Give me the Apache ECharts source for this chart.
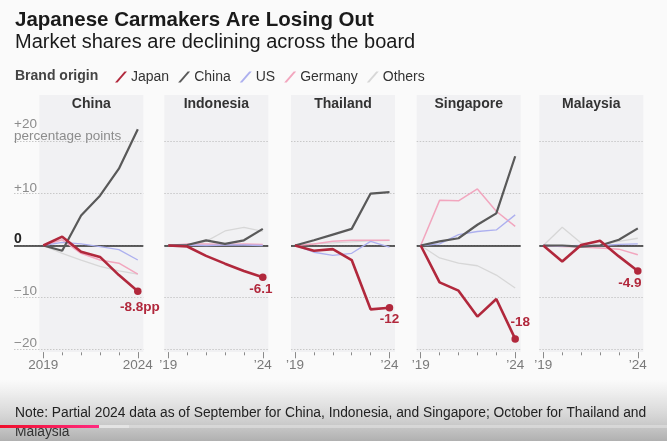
<!DOCTYPE html>
<html><head><meta charset="utf-8">
<script src="https://cdn.jsdelivr.net/npm/echarts@6/dist/echarts.min.js"></script>
<style>html,body{margin:0;padding:0;background:#fafafa}#c{width:667px;height:441px}</style>
</head><body><div id="c"></div>
<script>
// ---------------- data ----------------
const years = [2019, 2020, 2021, 2022, 2023, 2024];
const panels = ['China', 'Indonesia', 'Thailand', 'Singapore', 'Malaysia'];
const brandNames = ['Japan', 'China', 'US', 'Germany', 'Others'];
// change in market share (percentage points) by panel, in panel order
const japanShares = [
  [0, 1.7, -1.2, -2.2, -5.7, -8.8],
  [0, -0.2, -2.0, -3.5, -4.9, -6.1],
  [0, -1.0, -0.7, -2.8, -12.3, -12.0],
  [0, -7.1, -8.7, -13.7, -10.3, -18.0],
  [0, -3.1, 0.1, 0.9, -2.1, -4.9]
];
const chinaShares = [
  [0, -1.0, 5.8, 9.6, 14.8, 22.4],
  [0, 0.1, 1.0, 0.3, 1.0, 3.2],
  [0, 1.0, 2.1, 3.2, 10.0, 10.3],
  [0, 0.8, 1.4, 4.0, 6.2, 17.2],
  [0, 0.0, -0.2, 0.0, 1.1, 3.3]
];
const usShares = [
  [0, 0.6, 0.3, -0.2, -0.8, -2.8],
  [0, 0.1, 0.0, 0.1, 0.1, 0.0],
  [0, -1.3, -1.9, -1.5, 0.8, -0.3],
  [0, 0.3, 2.1, 2.7, 3.0, 5.9],
  [0, -0.1, 0.0, 0.0, 0.2, 0.3]
];
const germanyShares = [
  [0, 1.1, -1.5, -2.8, -3.4, -5.5],
  [0, 0.3, 0.3, 0.2, 0.3, 0.2],
  [0, 0.3, 0.8, 1.0, 1.0, 1.0],
  [0, 8.7, 8.6, 10.9, 6.6, 3.7],
  [0, -0.2, -0.3, -0.5, -0.7, -1.8]
];
const otherShares = [
  [0, -1.5, -2.8, -4.0, -4.9, -5.5],
  [0, 0.0, 0.8, 2.8, 3.5, 2.7],
  [0, 0.3, 0.5, 0.7, 0.9, 1.0],
  [0, -2.4, -3.4, -3.9, -5.7, -8.2],
  [0, 3.5, 0.5, 0.1, 0.8, 1.4]
];
const endLabels = ['-8.8pp', '-6.1', '-12', '-18', '-4.9'];
const startTickLabels = ['2019', '\u201919', '\u201919', '\u201919', '\u201919'];
const endTickLabels = ['2024', '\u201924', '\u201924', '\u201924', '\u201924'];
const yTickValues = [-20, -10, 0, 10, 20];
const yTickLabels = ['\u221220', '\u221210', '0', '+10', '+20'];
const yUnitLabel = 'percentage points';

// ---------------- layout & style ----------------
const FONT = '"Liberation Sans", Arial, sans-serif';
const colors = { Japan: '#b1283c', China: '#595959', US: '#adb0ef', Germany: '#f2a6be', Others: '#d7d7d7' };
const widths = { Japan: 2.6, China: 2.2, US: 1.3, Germany: 1.5, Others: 1.3 };
const drawOrder = ['Others', 'Germany', 'US', 'China', 'Japan'];
const shareByBrand = { Japan: japanShares, China: chinaShares, US: usShares, Germany: germanyShares, Others: otherShares };
const xStart = [43.3, 168.3, 295, 420.7, 543.3];
const yearPx = 18.9;
const gridTop = 141.7, gridBottom = 349.3;
const labelOffsets = [[2, 16], [-2, 12.5], [0, 11.5], [5, -17], [-8, 12.5]];
const bgTop = 95, bgBottom = 352;

const grids = [], xAxes = [], yAxes = [], series = [], graphics = [];

panels.forEach((p, i) => {
  const x0 = xStart[i];
  const x1 = x0 + 5 * yearPx;
  const bgL = x0 - 4;
  const bgR = x1 + 5.5;
  const gL = i === 0 ? 14 : bgL;
  grids.push({ left: gL, top: gridTop, width: bgR - gL, height: gridBottom - gridTop, containLabel: false });
  const xmin = years[0] - (x0 - gL) / yearPx;
  const xmax = years[years.length - 1] + (bgR - x1) / yearPx;
  xAxes.push({
    type: 'value', gridIndex: i, min: xmin, max: xmax, position: 'bottom', offset: 3,
    axisLine: { show: false, onZero: false }, splitLine: { show: false },
    axisTick: { show: true, customValues: years, length: 3, lineStyle: { color: '#8a8a8a', width: 1 } },
    axisLabel: {
      show: true, customValues: [years[0], years[years.length - 1]], margin: 6,
      formatter: v => (v === years[0] ? startTickLabels[i] : endTickLabels[i]),
      color: '#7a7a7a', fontSize: 13.5, fontFamily: FONT
    }
  });
  xAxes.push({
    type: 'value', gridIndex: i, min: xmin, max: xmax, position: 'bottom', offset: 3,
    axisLine: { show: false, onZero: false }, splitLine: { show: false },
    axisTick: { show: true, customValues: [years[0], years[years.length - 1]], length: 6, lineStyle: { color: '#8a8a8a', width: 1 } },
    axisLabel: { show: false }
  });
  yAxes.push({
    type: 'value', gridIndex: i, min: -20, max: 20, interval: 10,
    axisLine: { show: false }, axisTick: { show: false },
    splitLine: { show: true, lineStyle: { color: '#c8c8c8', width: 1, type: [1.5, 1.5] } },
    axisLabel: i === 0 ? {
      show: true, inside: true, margin: 0, verticalAlign: 'bottom',
      formatter: v => {
        const t = yTickLabels[yTickValues.indexOf(v)];
        if (v === 0) return '{z|' + t + '}';
        if (v === 20) return '{n|' + t + '}\n{n|' + yUnitLabel + '}';
        return '{n|' + t + '}';
      },
      rich: {
        n: { color: '#8c8c8c', fontSize: 13.5, fontFamily: FONT, lineHeight: 11.5 },
        z: { color: '#222', fontSize: 14, fontWeight: 'bold', fontFamily: FONT, lineHeight: 12 }
      }
    } : { show: false }
  });
  // panel background and title
  graphics.push({ type: 'rect', z: -10, silent: true, shape: { x: bgL, y: bgTop, width: bgR - bgL, height: bgBottom - bgTop }, style: { fill: '#f1f1f3' } });
  graphics.push({ type: 'text', z: 10, silent: true, x: (bgL + bgR) / 2, y: 104, style: { text: p, fill: '#333', font: 'bold 14px ' + FONT, align: 'center', verticalAlign: 'middle' } });

  drawOrder.forEach((b, k) => {
    const vals = shareByBrand[b][i];
    const isJapan = b === 'Japan';
    const data = years.map((y, j) => {
      if (isJapan && j === years.length - 1) {
        return {
          value: [y, vals[j]], symbol: 'circle', symbolSize: 7.5,
          label: {
            show: true, position: 'inside', offset: labelOffsets[i], formatter: endLabels[i],
            color: colors.Japan, fontSize: 13.5, fontWeight: 'bold', fontFamily: FONT
          }
        };
      }
      return [y, vals[j]];
    });
    const s = {
      type: 'line', name: b, xAxisIndex: 2 * i, yAxisIndex: i, data,
      symbol: 'none', showSymbol: true, clip: false, silent: true, animation: false,
      z: 2 + k,
      lineStyle: { color: colors[b], width: widths[b] },
      itemStyle: { color: colors[b], borderWidth: 0 },
      emphasis: { disabled: true }
    };
    if (b === 'Others') {
      s.markLine = {
        silent: true, symbol: 'none', animation: false, z: 3,
        label: { show: false },
        lineStyle: { color: '#2b2b2b', width: 1.6, type: 'solid' },
        data: [{ yAxis: 0 }]
      };
    }
    series.push(s);
  });
});

// headline texts
graphics.push({ type: 'text', silent: true, x: 15, y: 20, style: { text: 'Japanese Carmakers Are Losing Out', fill: '#1a1a1a', font: 'bold 20.5px ' + FONT, verticalAlign: 'middle' } });
graphics.push({ type: 'text', silent: true, x: 15, y: 42, style: { text: 'Market shares are declining across the board', fill: '#1a1a1a', font: '20px ' + FONT, verticalAlign: 'middle' } });
graphics.push({ type: 'text', silent: true, x: 15, y: 76, style: { text: 'Brand origin', fill: '#444', font: 'bold 14px ' + FONT, verticalAlign: 'middle' } });

// bottom overlay with note
graphics.push({
  type: 'rect', z: 50, silent: true, shape: { x: 0, y: 380, width: 667, height: 61 },
  style: { fill: new echarts.graphic.LinearGradient(0, 0, 0, 1, [
    { offset: 0, color: 'rgba(225,225,225,0)' },
    { offset: 0.3, color: 'rgba(220,220,220,0.6)' },
    { offset: 1, color: 'rgba(172,172,172,0.95)' }
  ]) }
});
graphics.push({ type: 'text', z: 60, silent: true, x: 15, y: 413.5, style: { text: 'Note: Partial 2024 data as of September for China, Indonesia, and Singapore; October for Thailand and', fill: '#222', font: '13.8px ' + FONT, verticalAlign: 'middle' } });
graphics.push({ type: 'text', z: 60, silent: true, x: 15, y: 432.5, style: { text: 'Malaysia', fill: '#333', font: '13.8px ' + FONT, verticalAlign: 'middle' } });
graphics.push({ type: 'rect', z: 70, silent: true, shape: { x: 0, y: 425, width: 667, height: 3 }, style: { fill: 'rgba(235,235,235,0.45)' } });
graphics.push({ type: 'rect', z: 71, silent: true, shape: { x: 99, y: 425, width: 30, height: 3 }, style: { fill: '#e4e4e4' } });
graphics.push({
  type: 'rect', z: 72, silent: true, shape: { x: 0, y: 425, width: 99, height: 3 },
  style: { fill: new echarts.graphic.LinearGradient(0, 0, 1, 0, [
    { offset: 0, color: '#f0102c' }, { offset: 1, color: '#ff2a80' }
  ]) }
});

const slash = 'path://M0,11 L9.5,0 L12,0 L2.5,11 Z';
const option = {
  backgroundColor: '#fafafa',
  animation: false,
  textStyle: { fontFamily: FONT },
  grid: grids, xAxis: xAxes, yAxis: yAxes, series,
  legend: {
    left: 110, top: 65, itemWidth: 12, itemHeight: 11, itemGap: 9, selectedMode: false,
    icon: slash,
    itemStyle: { borderWidth: 0 },
    textStyle: { fontSize: 14, color: '#333', fontFamily: FONT, padding: [0, 0, 0, -1] },
    data: brandNames.map(n => ({ name: n, icon: slash }))
  },
  graphic: { elements: graphics }
};
const chart = echarts.init(document.getElementById('c'));
chart.setOption(option);
</script>
</body></html>
